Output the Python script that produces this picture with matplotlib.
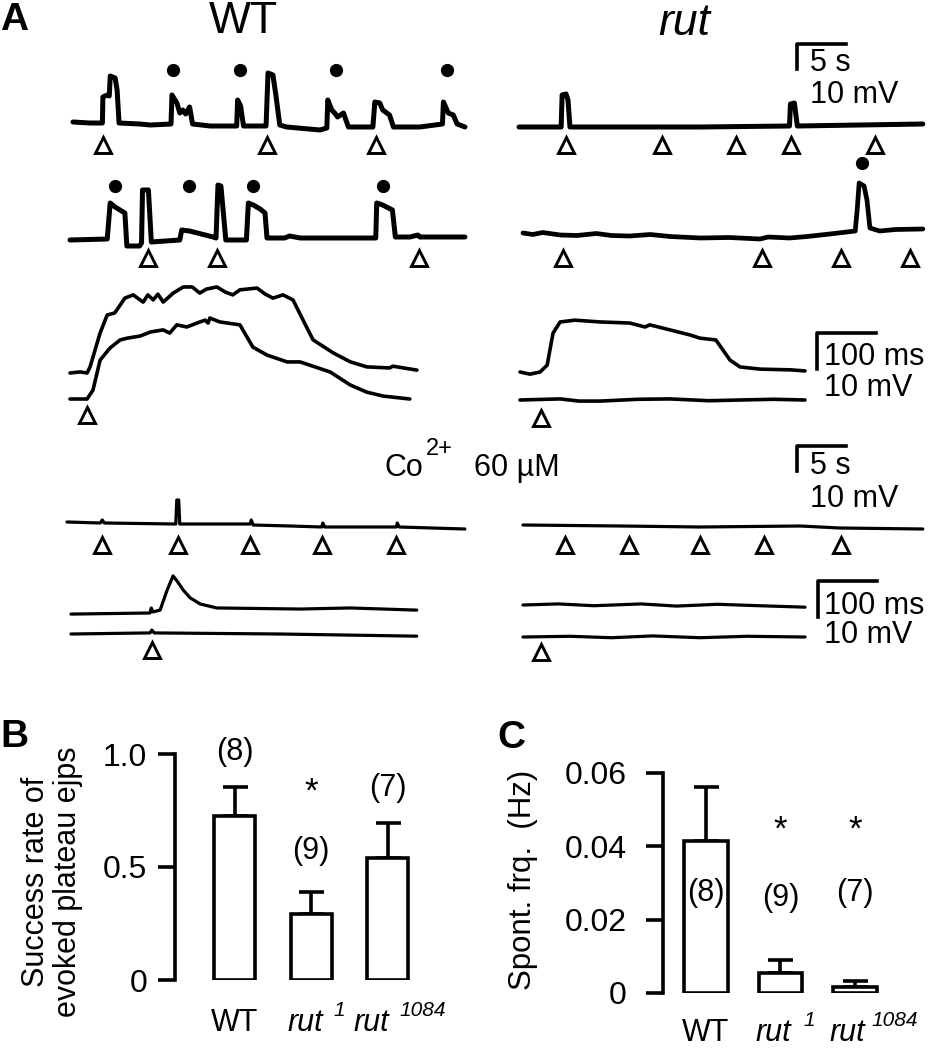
import numpy as np
import matplotlib.pyplot as plt

plt.rcParams['font.family'] = 'Liberation Sans'

W, H = 934, 1050

# ---------------- panel A: traces ----------------
# slow sweeps (time in s, voltage in mV relative to rest)
wt_s1_t = [0, 1.7, 3.0, 3.05, 3.5, 3.7, 3.8, 4.3, 4.5, 4.7, 6.8, 7.9, 10.0, 10.1, 10.6, 10.9, 11.2, 11.5,
           11.9, 12.2, 14.0, 16.7, 16.8, 17.1, 17.4, 19.7, 19.9, 20.4, 20.7, 21.1, 21.8, 25.2, 25.9, 26.0,
           26.4, 26.7, 27.0, 27.6, 28.1, 30.6, 30.8, 31.3, 31.6, 32.3, 32.7, 35.4, 37.7, 37.8, 38.3, 38.8,
           39.2, 40.0]
wt_s1_v = [0.4, 0, 0, 10.4, 11.2, 10.8, 18.8, 18.0, 13.2, 0, -0.4, -0.8, -0.4, 11.2, 8.0, 4.0, 5.2, 3.6,
           6.4, -0.4, -1.2, -1.2, 9.2, 6.8, -1.2, -1.2, 20.0, 19.2, 11.2, -0.8, -1.6, -2.8, -2.0, 9.2,
           5.2, 4.0, 2.4, 4.0, -1.6, -1.6, 8.4, 8.0, 5.2, 3.2, -1.6, -1.6, -0.4, 8.4, 4.0, 3.2,
           -0.4, -1.6]
wt_s1_dots = [10.2, 17.0, 26.8, 38.2]
wt_s1_stim = [3.1, 19.8, 30.9]

wt_s2_t = [0, 3.8, 4.1, 4.6, 5.1, 5.6, 5.8, 7.1, 7.3, 7.4, 8.0, 8.3, 11.2, 11.4, 12.2, 14.6, 14.9, 15.1,
           15.4, 15.9, 18.0, 18.2, 18.7, 19.4, 19.9, 20.1, 21.9, 22.4, 23.5, 27.6, 31.2, 31.3, 31.9, 32.9,
           33.2, 34.7, 35.5, 35.7, 40.3]
wt_s2_v = [0, 0.4, 14.8, 13.2, 12.0, 10.8, -2.4, -2.4, -1.2, 20.0, 20.0, -0.8, 0, 4.0, 3.6, 1.2, 0.8, 22.0,
           21.6, 0, 0, 14.8, 14.0, 12.4, 10.8, 0.8, 0.8, 1.6, 0.8, 0.8, 0.8, 14.8, 14.0, 12.0,
           1.2, 1.2, 2.0, 1.2, 1.2]
wt_s2_dots = [4.6, 12.1, 18.7, 31.9]
wt_s2_stim = [8.0, 15.0, 35.6]

rut_s1_t = [0, 4.3, 4.4, 4.8, 5.0, 5.2, 18.5, 27.6, 27.7, 28.1, 28.4, 41.2]
rut_s1_v = [0, 0, 12.8, 13.2, 10.8, 0, 0, 0.4, 9.2, 9.6, 0.4, 1.2]
rut_s1_stim = [4.8, 14.6, 22.1, 27.8, 36.3]

rut_s2_t = [0, 1.0, 2.0, 3.8, 5.5, 7.5, 9.0, 10.9, 13.0, 15.0, 18.1, 21.0, 24.2, 25.0, 27.2, 29.0, 31.3,
            33.9, 34.1, 34.3, 34.8, 35.1, 35.4, 36.4, 38.0, 40.8]
rut_s2_v = [1.2, 0.6, 1.4, 0.4, 0.2, 1.0, 0.2, 0, 0.6, -0.2, -0.8, -0.6, -1.2, -0.4, -0.8, -0.2, 0.8,
            2.0, 10.4, 21.2, 20.0, 14.4, 3.2, 2.0, 2.6, 2.8]
rut_s2_dots = [34.6]
rut_s2_stim = [4.1, 24.4, 32.4, 39.5]

# fast sweeps (time in ms)
wt_f_up_t = [0, 17, 29, 34, 51, 63, 76, 93, 107, 124, 132, 141, 149, 158, 175, 192, 207, 220, 231, 249,
             263, 276, 288, 317, 331, 344, 361, 378, 395, 412, 446, 475, 503, 542, 547, 588]
wt_f_up_v = [0, 0.3, 0, 1.7, 11.1, 16.1, 16.7, 20.8, 21.7, 19.7, 21.7, 20.3, 21.9, 19.7, 22.2, 23.9, 23.9,
             22.2, 23.3, 23.9, 22.5, 21.7, 23.1, 23.6, 21.9, 20.8, 21.7, 20.3, 14.7, 9.2, 5.6, 3.1, 1.7,
             1.4, 1.9, 0.8]
wt_f_lo_t = [0, 29, 39, 51, 68, 85, 97, 119, 136, 158, 169, 181, 198, 220, 229, 234, 237, 254, 288, 310,
             334, 368, 390, 441, 475, 503, 531, 576]
wt_f_lo_v = [0, 0, 2.5, 10.8, 14.2, 16.4, 16.9, 17.5, 18.6, 19.2, 18.3, 20.6, 20.0, 21.4, 21.9, 21.1, 22.5,
             21.4, 20.6, 14.4, 12.2, 10.3, 10.3, 7.5, 3.9, 1.9, 0.8, 0]
wt_f_stim = [29]

rut_f_up_t = [0, 17, 34, 46, 56, 68, 93, 136, 186, 212, 220, 254, 288, 305, 332, 356, 373, 407, 458, 483]
rut_f_up_v = [0, -0.6, 0, 1.9, 10.8, 13.9, 14.4, 13.9, 13.6, 12.5, 13.1, 11.7, 10.3, 9.4, 8.9, 3.3, 1.4,
              0.8, 0.6, 0.3]
rut_f_lo_t = [0, 68, 100, 136, 200, 254, 320, 373, 430, 483]
rut_f_lo_v = [0, 0.3, -0.3, -0.3, 0.2, 0.3, -0.2, 0, 0.2, 0]
rut_f_stim = [36]

# Co2+ 60 uM
wt_co_s_t = [0, 3.4, 3.6, 3.8, 11.1, 11.2, 11.4, 11.5, 18.7, 18.8, 19.0, 22.8, 26.0, 26.1, 26.3, 33.6, 33.7,
             33.9, 40.6]
wt_co_s_v = [0, -0.4, 0.8, -0.4, -0.8, 8.8, 8.8, -0.8, -0.8, 0.8, -1.2, -1.6, -2.0, -0.4, -2.0, -2.0, -0.4,
             -2.0, -2.8]
wt_co_s_stim = [3.6, 11.3, 18.7, 26.0, 33.6]

rut_co_s_t = [0, 9.9, 18.1, 28.3, 32.3, 40.8]
rut_co_s_v = [0, -0.4, -0.8, -0.4, -1.2, -1.6]
rut_co_s_stim = [4.3, 10.8, 18.1, 24.6, 32.4]

wt_co_f_up_t = [0, 134, 136, 139, 151, 163, 173, 181, 190, 202, 219, 247, 388, 473, 586]
wt_co_f_up_v = [-0.3, 0, 1.4, 0.3, 0.8, 6.4, 10.3, 8.6, 6.4, 4.2, 2.5, 1.4, 1.1, 1.4, 0.8]
wt_co_f_lo_t = [0, 134, 137, 141, 354, 586]
wt_co_f_lo_v = [0, 0.3, 1.1, 0.3, 0, -0.6]
wt_co_f_stim = [137]

rut_co_f_up_t = [0, 60, 120, 200, 260, 330, 400, 478]
rut_co_f_up_v = [0, 0.3, -0.2, 0.3, -0.3, 0.2, -0.2, -0.6]
rut_co_f_lo_t = [0, 80, 150, 220, 300, 380, 478]
rut_co_f_lo_v = [0, 0.2, -0.2, 0.3, -0.2, 0.2, 0]
rut_co_f_stim = [31]

# ---------------- panels B and C ----------------
group_main = ['WT', 'rut', 'rut']
group_sup = ['', '1', '1084']
success_mean = [0.726, 0.292, 0.54]
success_sem = [0.128, 0.098, 0.155]
success_n = [8, 9, 7]
success_sig = ['', '*', '']
freq_mean = [0.0414, 0.0055, 0.0016]
freq_sem = [0.0148, 0.0035, 0.0017]
freq_n = [8, 9, 7]
freq_sig = ['', '*', '*']

fig = plt.figure(figsize=(W / 100, H / 100), dpi=100)
axA = fig.add_axes([0, 0, 1, 1])
axA.set_xlim(0, W)
axA.set_ylim(H, 0)
axA.axis('off')

SLOW = (9.8, 2.5)    # px per s, px per mV
FAST = (0.59, 3.6)   # px per ms, px per mV


def trace(t, v, x0, y0, sc, lw):
    t = np.asarray(t, float)
    v = np.asarray(v, float)
    axA.plot(x0 + t * sc[0], y0 - v * sc[1], color='black', lw=lw,
             solid_joinstyle='round', solid_capstyle='round')


def stim(ts, x0, y, sc):
    xs = x0 + np.asarray(ts, float) * sc[0]
    axA.plot(xs, [y] * len(xs), ls='none', marker='^', ms=11, mfc='white',
             mec='black', mew=2.1)


def dots(ts, x0, y, sc):
    xs = x0 + np.asarray(ts, float) * sc[0]
    axA.plot(xs, [y] * len(xs), ls='none', marker='o', ms=8.5, color='black')


def scalebar(x, y, sc, tlen, tlab, tx, ty1, ty2):
    axA.plot([x + tlen * sc[0], x, x], [y, y, y + 10 * sc[1]], color='black', lw=2.6)
    axA.text(tx, ty1, tlab, fontsize=22, ha='left', va='center')
    axA.text(tx, ty2, '10 mV', fontsize=22, ha='left', va='center')


# row 1-2 slow WT
trace(wt_s1_t, wt_s1_v, 73, 123, SLOW, 3.6)
dots(wt_s1_dots, 73, 70, SLOW)
stim(wt_s1_stim, 73, 145, SLOW)
trace(wt_s2_t, wt_s2_v, 70, 240, SLOW, 3.6)
dots(wt_s2_dots, 70, 186, SLOW)
stim(wt_s2_stim, 70, 258, SLOW)
# row 1-2 slow rut
trace(rut_s1_t, rut_s1_v, 519, 127, SLOW, 3.6)
stim(rut_s1_stim, 519, 145, SLOW)
trace(rut_s2_t, rut_s2_v, 523, 236, SLOW, 3.4)
dots(rut_s2_dots, 523, 163, SLOW)
stim(rut_s2_stim, 523, 258, SLOW)
scalebar(797, 44, SLOW, 5, '5 s', 810, 63, 95)

# row 3 fast
trace(wt_f_up_t, wt_f_up_v, 70, 373, FAST, 2.6)
trace(wt_f_lo_t, wt_f_lo_v, 70, 399, FAST, 2.6)
stim(wt_f_stim, 70, 415, FAST)
trace(rut_f_up_t, rut_f_up_v, 520, 372, FAST, 2.6)
trace(rut_f_lo_t, rut_f_lo_v, 520, 400, FAST, 2.6)
stim(rut_f_stim, 520, 418, FAST)
scalebar(817, 333, FAST, 100, '100 ms', 824, 357, 388)

# Co2+
axA.text(385, 468, 'Co', fontsize=22, ha='left', va='center')
axA.text(426, 449, '2+', fontsize=17, ha='left', va='center')
axA.text(474, 468, '60 µM', fontsize=22, ha='left', va='center')
trace(wt_co_s_t, wt_co_s_v, 67, 522, SLOW, 2.3)
stim(wt_co_s_stim, 67, 545, SLOW)
trace(rut_co_s_t, rut_co_s_v, 523, 525, SLOW, 2.3)
stim(rut_co_s_stim, 523, 545, SLOW)
scalebar(797, 446, SLOW, 5, '5 s', 810, 466, 499)

trace(wt_co_f_up_t, wt_co_f_up_v, 71, 613, FAST, 2.3)
trace(wt_co_f_lo_t, wt_co_f_lo_v, 71, 634, FAST, 2.3)
stim(wt_co_f_stim, 71, 650, FAST)
trace(rut_co_f_up_t, rut_co_f_up_v, 523, 605, FAST, 2.3)
trace(rut_co_f_lo_t, rut_co_f_lo_v, 523, 637, FAST, 2.3)
stim(rut_co_f_stim, 523, 652, FAST)
scalebar(818, 581, FAST, 100, '100 ms', 824, 606, 635)

axA.text(0, 20, 'A', fontsize=28, weight='bold', ha='left', va='center')
axA.text(243, 1, 'WT', fontsize=32, ha='center', va='top')
axA.text(684, 3, 'rut', fontsize=32, style='italic', ha='center', va='top')


# ---------------- bar panels ----------------
def bar_panel(rect, mean, sem, n, sig, ylim, ticks, ticklabels, pad, xlim, width,
              n_y, sig_y, lab_x, sup_x, lab_y):
    ax = fig.add_axes(rect)
    x = np.arange(len(mean))
    ax.bar(x, mean, width=width, color='white', edgecolor='black', lw=2.6, zorder=2)
    ax.errorbar(x, mean, yerr=[np.zeros(len(mean)), sem], fmt='none', ecolor='black',
                elinewidth=2.6, capsize=9, capthick=2.6, zorder=1)
    ax.set_ylim(*ylim)
    ax.set_xlim(*xlim)
    for s in ['top', 'right', 'bottom']:
        ax.spines[s].set_visible(False)
    ax.spines['left'].set_linewidth(2.6)
    ax.set_xticks([])
    ax.set_yticks(ticks)
    ax.set_yticklabels(ticklabels)
    ax.tick_params(axis='y', direction='out', length=12, width=2.6, labelsize=23, pad=pad)
    for i in range(len(mean)):
        ax.text(x[i], n_y[i], '(%d)' % n[i], fontsize=22, ha='center', va='center', clip_on=False)
        if sig[i]:
            ax.text(x[i], sig_y, sig[i], fontsize=25, ha='center', va='center', clip_on=False)
        # group labels below the bars (figure pixel coords)
        if group_sup[i]:
            axA.text(lab_x[i], lab_y, group_main[i], fontsize=22, style='italic',
                     ha='left', va='center')
            axA.text(sup_x[i], lab_y - 13, group_sup[i], fontsize=15, style='italic',
                     ha='left', va='center')
        else:
            axA.text(lab_x[i], lab_y, group_main[i], fontsize=22, ha='center', va='center')
    return ax


bar_panel([175 / W, (H - 980) / H, (426 - 175) / W, 226 / H], success_mean, success_sem,
          success_n, success_sig, (0, 1.0), [0, 0.5, 1.0], ['0', '0.5', '1.0'], 8,
          (-0.78, 2.5), 0.54, [1.01, 0.57, 0.85], 0.83,
          [235, 287, 354], [None, 333, 399], 1023)
bar_panel([663 / W, (H - 993) / H, (892 - 663) / W, 220 / H], freq_mean, freq_sem,
          freq_n, freq_sig, (0, 0.06), [0, 0.02, 0.04, 0.06], ['0', '0.02', '0.04', '0.06'], 14,
          (-0.58, 2.5), 0.59, [0.0272, 0.026, 0.0272], 0.0443,
          [706, 755, 829], [None, 803, 871], 1033)

fig.text(52 / W, 1 - 882 / H, 'Success rate of\nevoked plateau ejps', fontsize=22, rotation=90,
         ha='center', va='center', multialignment='center', linespacing=1.05)
fig.text(523 / W, 1 - 880 / H, 'Spont. frq.  (Hz)', fontsize=22.5, rotation=90,
         ha='center', va='center')
fig.text(0, 1 - 737 / H, 'B', fontsize=28, weight='bold', ha='left', va='center')
fig.text(497 / W, 1 - 738 / H, 'C', fontsize=28, weight='bold', ha='left', va='center')

fig.savefig('out.png', dpi=100)
